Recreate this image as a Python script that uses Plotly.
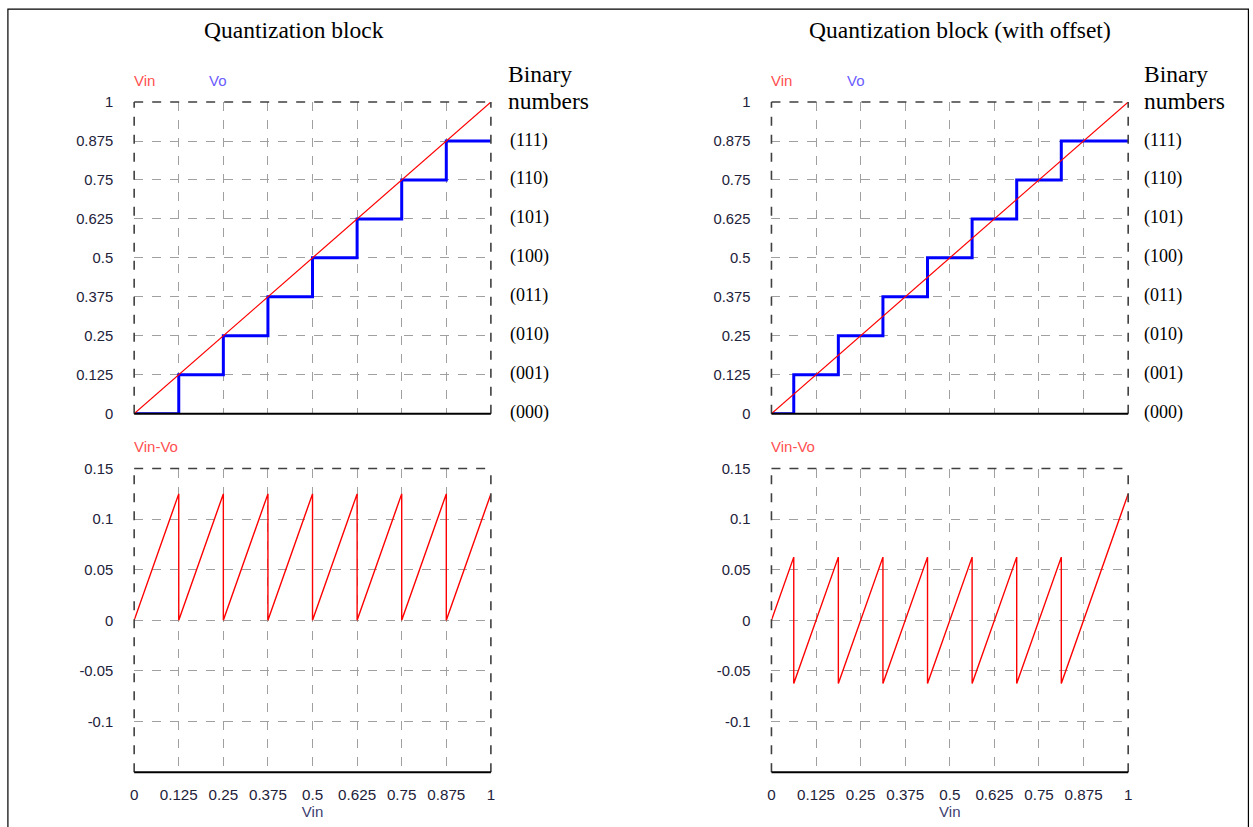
import plotly.graph_objects as go

# ---- data ----
vin_x = [0, 1]
vin_y = [0, 1]

vo_left_x = [0, 0.125, 0.25, 0.375, 0.5, 0.625, 0.75, 0.875, 1]
vo_left_y = [0, 0.125, 0.25, 0.375, 0.5, 0.625, 0.75, 0.875, 0.875]

vo_right_x = [0, 0.0625, 0.1875, 0.3125, 0.4375, 0.5625, 0.6875, 0.8125, 1]
vo_right_y = [0, 0.125, 0.25, 0.375, 0.5, 0.625, 0.75, 0.875, 0.875]

err_left_x = [0, 0.125, 0.125, 0.25, 0.25, 0.375, 0.375, 0.5, 0.5, 0.625, 0.625,
              0.75, 0.75, 0.875, 0.875, 1]
err_left_y = [0, 0.125, 0, 0.125, 0, 0.125, 0, 0.125, 0, 0.125, 0,
              0.125, 0, 0.125, 0, 0.125]

err_right_x = [0, 0.0625, 0.0625, 0.1875, 0.1875, 0.3125, 0.3125, 0.4375, 0.4375,
               0.5625, 0.5625, 0.6875, 0.6875, 0.8125, 0.8125, 1]
err_right_y = [0, 0.0625, -0.0625, 0.0625, -0.0625, 0.0625, -0.0625, 0.0625, -0.0625,
               0.0625, -0.0625, 0.0625, -0.0625, 0.0625, -0.0625, 0.125]

top_ticks = [0, 0.125, 0.25, 0.375, 0.5, 0.625, 0.75, 0.875, 1]
top_tick_text = ["0", "0.125", "0.25", "0.375", "0.5", "0.625", "0.75", "0.875", "1"]
bot_ticks = [-0.1, -0.05, 0, 0.05, 0.1, 0.15]
bot_tick_text = ["-0.1", "-0.05", "0", "0.05", "0.1", "0.15"]
binary_labels = ["(000)", "(001)", "(010)", "(011)", "(100)", "(101)", "(110)", "(111)"]
binary_header = ["Binary", "numbers"]
titles = ["Quantization block", "Quantization block (with offset)"]

# ---- layout geometry ----
W, H = 1253, 827
SX, OX, SY, OY = 0.9916, 4.1, 0.982, 6.8   # compensation for the capture transform
def px_x(p): return ((p - OX) / SX) / W
def px_y(p): return 1 - ((p - OY) / SY) / H

xdom_left = [px_x(134), px_x(490)]
xdom_right = [px_x(770), px_x(1126)]
ydom_top = [px_y(413), px_y(101)]
ydom_bot = [px_y(772), px_y(468)]

RED = "#ff0000"
BLUE = "#0000ff"
TICKC = "#22223a"
GRID = "#a0a0a0"

fig = go.Figure()

panels = [
    ("x", "y", vo_left_x, vo_left_y),
    ("x2", "y2", vo_right_x, vo_right_y),
]
for xa, ya, vx, vy in panels:
    fig.add_trace(go.Scatter(x=vx, y=vy, mode="lines", line=dict(color=BLUE, width=3, shape="hv"),
                             xaxis=xa, yaxis=ya, showlegend=False, hoverinfo="skip"))
    fig.add_trace(go.Scatter(x=vin_x, y=vin_y, mode="lines", line=dict(color=RED, width=1.2),
                             xaxis=xa, yaxis=ya, showlegend=False, hoverinfo="skip"))

fig.add_trace(go.Scatter(x=err_left_x, y=err_left_y, mode="lines", line=dict(color=RED, width=1.4),
                         xaxis="x3", yaxis="y3", showlegend=False, hoverinfo="skip"))
fig.add_trace(go.Scatter(x=err_right_x, y=err_right_y, mode="lines", line=dict(color=RED, width=1.4),
                         xaxis="x4", yaxis="y4", showlegend=False, hoverinfo="skip"))

FS = 14.8
tickfont = dict(family="Liberation Sans, Arial", size=FS, color=TICKC)
xtickfont = dict(family="Liberation Sans, Arial", size=15.2, color=TICKC)
common_x = dict(range=[0, 1], tickvals=top_ticks, showgrid=True, gridcolor=GRID, griddash="dash",
                gridwidth=1, zeroline=False, showline=False, ticks="", fixedrange=True,
                tickfont=xtickfont)
common_y = dict(showgrid=True, gridcolor=GRID, griddash="dash", gridwidth=1, zeroline=False,
                showline=False, ticks="", tickfont=tickfont, ticklabelstandoff=20)
xtitle = dict(text="Vin", font=dict(family="Liberation Sans, Arial", size=15, color="#404070"), standoff=4)

layout = dict(
    width=W, height=H, margin=dict(l=0, r=0, t=0, b=0),
    paper_bgcolor="white", plot_bgcolor="white",
    xaxis=dict(common_x, domain=xdom_left, anchor="y", showticklabels=False),
    yaxis=dict(common_y, domain=ydom_top, anchor="x", range=[0, 1], tickvals=top_ticks, ticktext=top_tick_text),
    xaxis2=dict(common_x, domain=xdom_right, anchor="y2", showticklabels=False),
    yaxis2=dict(common_y, domain=ydom_top, anchor="x2", range=[0, 1], tickvals=top_ticks, ticktext=top_tick_text),
    xaxis3=dict(common_x, domain=xdom_left, anchor="y3", ticktext=top_tick_text, ticklabelstandoff=12, title=xtitle),
    yaxis3=dict(common_y, domain=ydom_bot, anchor="x3", range=[-0.15, 0.15], tickvals=bot_ticks, ticktext=bot_tick_text),
    xaxis4=dict(common_x, domain=xdom_right, anchor="y4", ticktext=top_tick_text, ticklabelstandoff=12, title=xtitle),
    yaxis4=dict(common_y, domain=ydom_bot, anchor="x4", range=[-0.15, 0.15], tickvals=bot_ticks, ticktext=bot_tick_text),
)
fig.update_layout(**layout)

shapes = []
# outer border
shapes.append(dict(type="rect", xref="paper", yref="paper", x0=px_x(8), x1=px_x(1246), y0=-0.05, y1=px_y(8),
                   line=dict(color="black", width=1.2), fillcolor="rgba(0,0,0,0)", layer="below"))
for xa, ya in [("x", "y"), ("x2", "y2"), ("x3", "y3"), ("x4", "y4")]:
    xr, yr = f"{xa} domain", f"{ya} domain"
    for (x0, y0, x1, y1) in [(0, 0, 0, 1), (0, 1, 1, 1), (1, 0, 1, 1)]:
        shapes.append(dict(type="line", xref=xr, yref=yr, x0=x0, y0=y0, x1=x1, y1=y1,
                           line=dict(color="#404040", width=1.6, dash="dash")))
    shapes.append(dict(type="line", xref=xr, yref=yr, x0=0, y0=0, x1=1, y1=0,
                       line=dict(color="black", width=2)))
fig.update_layout(shapes=shapes)

ann = []
serif = "Liberation Serif, Times New Roman"
sans = "Liberation Sans, Arial"
TFS = 23.5
ann.append(dict(text=titles[0], x=px_x(294), y=px_y(29), xref="paper", yref="paper", showarrow=False,
                xanchor="center", yanchor="middle", font=dict(family=serif, size=TFS, color="black")))
ann.append(dict(text=titles[1], x=px_x(958), y=px_y(29), xref="paper", yref="paper", showarrow=False,
                xanchor="center", yanchor="middle", font=dict(family=serif, size=TFS, color="black")))
for x0, vx in [(132, 207), (768, 843)]:
    ann.append(dict(text="Vin", x=px_x(x0), y=px_y(79), xref="paper", yref="paper", showarrow=False,
                    xanchor="left", yanchor="middle", font=dict(family=sans, size=15, color="#ff5050")))
    ann.append(dict(text="Vo", x=px_x(vx), y=px_y(79), xref="paper", yref="paper", showarrow=False,
                    xanchor="left", yanchor="middle", font=dict(family=sans, size=15, color="#6a5cff")))
    ann.append(dict(text="Vin-Vo", x=px_x(x0), y=px_y(446), xref="paper", yref="paper", showarrow=False,
                    xanchor="left", yanchor="middle", font=dict(family=sans, size=15, color="#ff5050")))
for bx in [505, 1140]:
    for line_text, ly in zip(binary_header, [73, 100]):
        ann.append(dict(text=line_text, x=px_x(bx), y=px_y(ly), xref="paper", yref="paper",
                        showarrow=False, xanchor="left", yanchor="middle", align="left",
                        font=dict(family=serif, size=TFS, color="black")))
for i, lab in enumerate(binary_labels):
    for bx, ya in [(507, "y"), (1140, "y2")]:
        ann.append(dict(text=lab, x=px_x(bx), xref="paper", y=top_ticks[i], yref=ya, showarrow=False,
                        xanchor="left", yanchor="middle", yshift=1,
                        font=dict(family=serif, size=18, color="black")))
fig.update_layout(annotations=ann)

fig.write_html("out.html", config={"displayModeBar": False},
               post_script="document.body.style.margin='0';document.body.style.overflow='hidden';")
